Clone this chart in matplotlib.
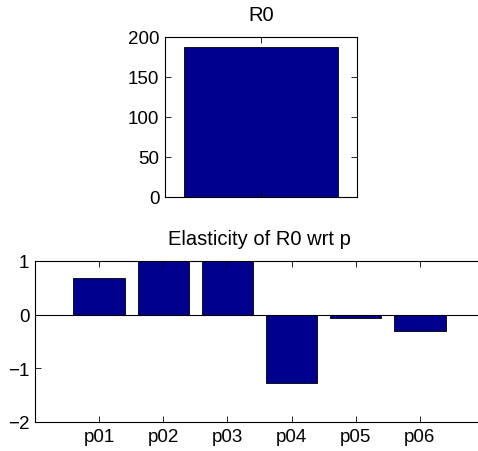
import matplotlib
matplotlib.use("Agg")
import matplotlib.pyplot as plt

plt.rcParams['font.family'] = ['Liberation Sans', 'DejaVu Sans']

r0_label = ["R0"]
r0_value = [188]

params = ["p01", "p02", "p03", "p04", "p05", "p06"]
elasticity = [0.68, 1.0, 1.0, -1.28, -0.06, -0.31]

bar_color = "#00008F"
fs = 13.5

fig = plt.figure(figsize=(4.78, 4.52), dpi=100)

# Top axes
ax1 = fig.add_axes([165/478, (452-198)/452, 192/478, 160/452])
ax1.bar([1], r0_value, width=0.8, color=bar_color, edgecolor="black", linewidth=0.6)
ax1.set_xlim(0.5, 1.5)
ax1.set_ylim(0, 200)
ax1.set_yticks([0, 50, 100, 150, 200])
ax1.set_xticks([1])
ax1.set_xticklabels([""])
ax1.set_title(r0_label[0], fontsize=14.5, pad=12)

# Bottom axes
ax2 = fig.add_axes([35/478, (452-423)/452, 449/478, 161/452])
x = list(range(1, len(params) + 1))
ax2.bar(x, elasticity, width=0.8, color=bar_color, edgecolor="black", linewidth=0.6)
ax2.axhline(0, color="black", linewidth=0.8)
ax2.set_xlim(0, 7)
ax2.set_ylim(-2, 1)
ax2.set_yticks([-2, -1, 0, 1])
ax2.set_xticks(x)
ax2.set_xticklabels(params)
ax2.set_title("Elasticity of R0 wrt p", fontsize=14.5, pad=12)

for ax in (ax1, ax2):
    ax.tick_params(direction="in", length=4, width=0.6, top=True, right=True,
                   labelsize=fs, pad=4)
    for s in ax.spines.values():
        s.set_linewidth(0.8)
ax2.spines['right'].set_visible(False)
ax2.tick_params(right=False)

fig.savefig("out.png", dpi=100)
